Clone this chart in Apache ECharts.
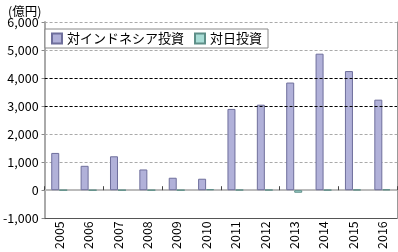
<!DOCTYPE html>
<html><head><meta charset="utf-8">
<script src="https://cdn.jsdelivr.net/npm/echarts@6/dist/echarts.min.js"></script>
<style>html,body{margin:0;padding:0;background:#fff}#c{width:398px;height:252px}</style>
</head><body><div id="c"></div>
<script>
const years = ['2005','2006','2007','2008','2009','2010','2011','2012','2013','2014','2015','2016'];
const toIndonesia = [1330, 870, 1210, 740, 445, 410, 2900, 3050, 3840, 4870, 4250, 3230];
const toJapan = [5, 3, 5, 5, 5, 40, 15, 15, -90, 10, 20, 30];
const yTicks = [-1000, 0, 1000, 2000, 3000, 4000, 5000, 6000];
const boldLines = [3000, 4000];

const font = '"Noto Sans CJK JP", "Noto Sans", sans-serif';
const chart = echarts.init(document.getElementById('c'), null, {renderer: 'canvas'});
chart.setOption({
  animation: false,
  textStyle: {fontFamily: font},
  title: {text: '(億円)', left: 3, top: 0, textStyle: {fontSize: 12.5, fontWeight: 'normal', color: '#000', fontFamily: font}},
  legend: {
    left: 45, top: 29, itemWidth: 10, itemHeight: 10, itemGap: 10,
    padding: [3, 6, 3, 6],
    borderColor: '#888', borderWidth: 1, backgroundColor: '#fff',
    textStyle: {fontSize: 13, color: '#000', fontFamily: font},
    icon: 'rect',
    data: ['対インドネシア投資', '対日投資']
  },
  grid: {left: 44, top: 22, right: 1, bottom: 33},
  xAxis: [{
    type: 'category', data: years, position: 'bottom',
    axisLine: {onZero: false, lineStyle: {color: '#555', width: 1}},
    axisTick: {show: false},
    axisLabel: {rotate: 90, fontSize: 12.5, color: '#000', margin: 3, fontFamily: font}
  }, {
    type: 'category', data: years, position: 'bottom',
    axisLine: {onZero: true, lineStyle: {color: '#bbb', width: 2}},
    axisTick: {show: true, inside: true, length: 4, lineStyle: {color: '#444'}},
    axisLabel: {show: false}
  }],
  yAxis: [{
    type: 'value', min: -1000, max: 6000, interval: 1000,
    axisLine: {show: true, lineStyle: {color: '#aaa', width: 2}},
    axisTick: {show: true, length: 3, lineStyle: {color: '#888'}},
    axisLabel: {fontSize: 12.5, color: '#000', margin: 6, fontFamily: font,
      formatter: v => v.toLocaleString('en-US')},
    splitLine: {show: true, lineStyle: {color: '#aaa', type: [3, 2], width: 1}}
  }, {
    type: 'value', min: -1000, max: 6000, interval: 1000, position: 'right',
    axisLine: {show: true, lineStyle: {color: '#999', width: 1}},
    axisTick: {show: false}, axisLabel: {show: false}, splitLine: {show: false}
  }],
  series: [{
    name: '対インドネシア投資', type: 'bar', data: toIndonesia,
    barWidth: 8, barGap: '0%',
    itemStyle: {color: '#b1b1d9', borderColor: '#6f6f9c', borderWidth: 1},
    markLine: {
      silent: true, symbol: 'none', label: {show: false},
      lineStyle: {color: '#000', type: [3, 2], width: 1},
      data: boldLines.map(v => ({yAxis: v}))
    }
  }, {
    name: '対日投資', type: 'bar', data: toJapan,
    barWidth: 8, barGap: '0%',
    itemStyle: {color: '#a9ddd6', borderColor: '#5e8f88', borderWidth: 1}
  }]
});
</script></body></html>
